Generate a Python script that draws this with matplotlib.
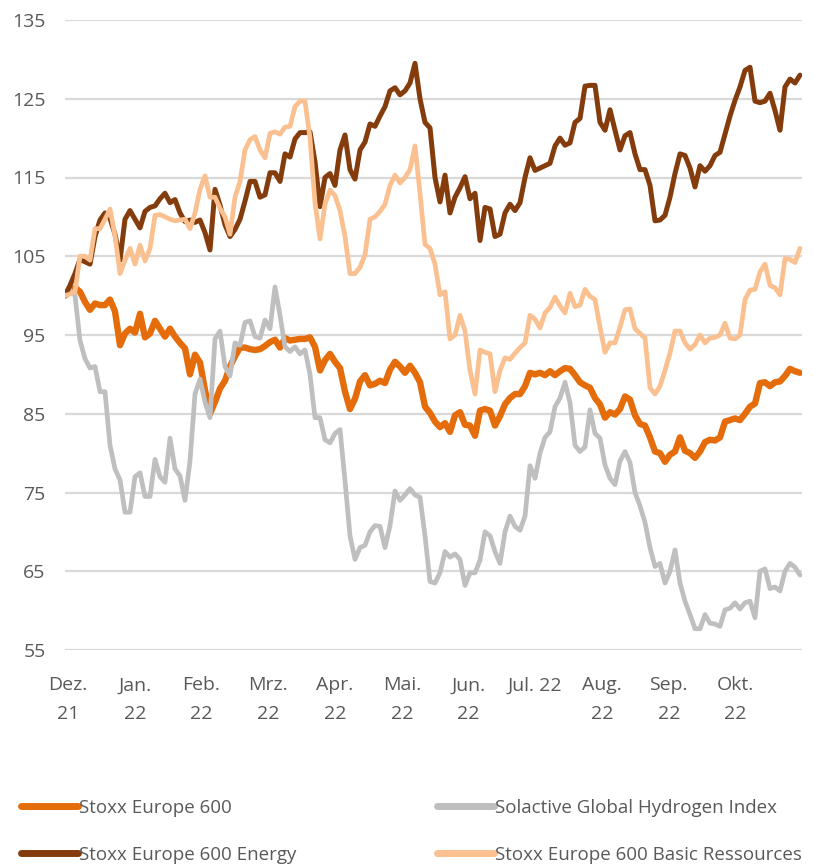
import matplotlib
matplotlib.use("Agg")
import matplotlib.pyplot as plt

# Monatsbeschriftungen der x-Achse
month_labels = ["Dez.\n21", "Jan.\n22", "Feb.\n22", "Mrz.\n22", "Apr.\n22", "Mai.\n22",
                "Jun.\n22", "Jul. 22", "Aug.\n22", "Sep.\n22", "Okt.\n22"]
month_pos = [0.6, 13.95, 27.3, 40.65, 54.0, 67.35, 80.7, 94.05, 107.4, 120.75, 134.1]

y_ticks = [55, 65, 75, 85, 95, 105, 115, 125, 135]

# Indexierte Kurse (Start = 100), ca. jeder zweite Handelstag
stoxx600 = [
    100, 100.5, 101, 100.5, 99.2, 98.2, 99, 98.8, 98.8, 99.5,
    98, 93.7, 95.2, 95.8, 95.3, 97.7, 94.7, 95.2, 96.8, 95.8,
    94.8, 95.8, 94.8, 94, 93.3, 90, 92.5, 91.5, 88, 85,
    86.5, 88.2, 89.2, 91, 92.3, 93.4, 93.4, 93.2, 93.1, 93.2,
    93.6, 94.1, 94.4, 93.4, 94.6, 94.3, 94.4, 94.5, 94.5, 94.7,
    93.5, 90.5, 91.8, 92.6, 91.6, 90.8, 87.8, 85.6, 86.9, 89.1,
    89.9, 88.6, 88.8, 89.2, 88.9, 90.6, 91.6, 91, 90.2, 91.1,
    90.2, 89, 85.9, 85.1, 84, 83.3, 83.8, 82.7, 84.8, 85.2,
    83.6, 83.5, 82.2, 85.4, 85.6, 85.4, 83.5, 84.7, 86.2, 87,
    87.5, 87.5, 88.5, 90.2, 90, 90.2, 89.9, 90.4, 89.9, 90.4,
    90.8, 90.7, 89.9, 89, 88.6, 88.3, 87, 86.2, 84.5, 85.2,
    84.9, 85.6, 87.2, 86.8, 84.8, 83.7, 83.5, 82, 80.2, 80,
    78.9, 79.8, 80.2, 82, 80.3, 80, 79.4, 80.2, 81.4, 81.7,
    81.6, 82, 84, 84.2, 84.4, 84.2, 85, 85.9, 86.3, 88.9,
    89, 88.5, 89, 89.1, 89.8, 90.7, 90.4, 90.2,
]

hydrogen = [
    100, 100.7, 100, 94.3, 92, 90.8, 91, 87.8, 87.8, 81,
    78, 76.6, 72.5, 72.5, 77, 77.5, 74.5, 74.5, 79.2, 77,
    76.3, 81.9, 78, 77.1, 74, 79, 87.5, 89.4, 86.5, 84.5,
    94.5, 95.5, 91, 89.8, 94, 93.7, 96.6, 96.8, 94.8, 94.6,
    96.9, 95.8, 101.1, 97.5, 93.5, 92.9, 93.5, 92.6, 93.1, 90,
    84.5, 84.5, 81.7, 81.3, 82.5, 83, 76.5, 69.5, 66.5, 68,
    68.3, 70, 70.8, 70.7, 68, 70.8, 75.2, 74, 74.7, 75.5,
    74.7, 74.4, 69.5, 63.7, 63.5, 64.8, 67.5, 66.8, 67.2, 66.5,
    63.2, 64.8, 64.8, 66.4, 70, 69.5, 67.5, 66, 70, 72,
    70.7, 70.2, 72, 78.4, 76.8, 80, 82, 82.7, 85.9, 87,
    89, 86.4, 81, 80.2, 80.8, 85.5, 82.5, 81.9, 78.5, 76.8,
    76, 79, 80.2, 78.8, 75, 73.3, 71.2, 68, 65.6, 66,
    63.5, 65, 67.7, 63.5, 61.2, 59.5, 57.7, 57.7, 59.5, 58.4,
    58.3, 58, 60.1, 60.3, 61, 60.2, 61, 61.2, 59.1, 65,
    65.3, 62.8, 63, 62.5, 65, 66, 65.5, 64.5,
]

energy = [
    100, 101.3, 102.8, 104.6, 104.3, 104, 107.5, 109.6, 110.5, 109.8,
    107.8, 104.5, 109.7, 110.8, 109.7, 108.6, 110.7, 111.2, 111.4, 112.3,
    113, 111.8, 112.2, 110.5, 109.4, 109.6, 109.3, 109.6, 108, 105.8,
    113.5, 111.5, 109, 107.5, 108.4, 109.7, 112, 114.5, 114.5, 112.5,
    112.8, 115.6, 115.6, 114.5, 118, 117.6, 119.9, 120.7, 120.7, 120.8,
    117, 111.3, 115, 115.5, 114, 118.5, 120.4, 116, 114.8, 118.5,
    119.5, 121.8, 121.5, 122.8, 124, 126, 126.4, 125.5, 126, 127,
    129.5, 125, 122, 121.3, 115, 111.9, 115.3, 110.5, 112.5, 113.7,
    115.1, 112.3, 113, 107, 111.2, 111, 107.5, 107.8, 110.5, 111.6,
    110.8, 111.8, 115, 117.5, 115.9, 116.2, 116.5, 116.8, 119, 120,
    119.1, 119.4, 122, 122.5, 126.6, 126.7, 126.7, 122, 121, 123.6,
    121, 118.5, 120.3, 120.7, 118, 116, 116, 114, 109.5, 109.6,
    110.2, 112.5, 115.5, 118, 117.8, 116.2, 113.8, 116.5, 115.8, 116.5,
    117.8, 118.2, 120.5, 122.8, 124.8, 126.5, 128.6, 129, 124.7, 124.5,
    124.7, 125.7, 123.5, 121, 126.5, 127.5, 127, 128,
]

basic_res = [
    100, 100.2, 100.5, 105, 105, 104.5, 108.5, 108.5, 109.7, 111,
    107.6, 102.8, 104.5, 106, 104, 106.4, 104.4, 106, 110.2, 110.3,
    110, 109.7, 109.5, 109.6, 109.7, 108.5, 110.5, 113.5, 115.2, 112.5,
    112.5, 111.1, 110, 107.8, 112.5, 114.5, 118.5, 119.8, 120.2, 118.5,
    117.5, 120.6, 120.8, 120.5, 121.4, 121.5, 124, 124.7, 124.7, 120,
    111.8, 107.2, 111.6, 113.4, 112.7, 110.8, 107.5, 102.8, 102.8, 103.6,
    105.2, 109.7, 110, 110.7, 111.6, 114, 115.3, 114.3, 115, 116,
    119, 113, 106.5, 106, 104, 100.1, 100.5, 94.5, 95, 97.5,
    95.5, 90.5, 87.5, 93.1, 92.8, 92.6, 87.8, 90.5, 92.1, 91.9,
    92.7, 93.4, 94, 97.5, 97, 95.9, 97.8, 98.5, 99.8, 98.7,
    97.8, 100.3, 98.6, 98.8, 100.8, 99.9, 99.5, 96, 92.8, 94,
    94, 96, 98.2, 98.3, 95.8, 95.2, 94.6, 88.3, 87.5, 88.5,
    90.5, 92.7, 95.5, 95.5, 94, 93.2, 93.8, 95, 94, 94.6,
    94.7, 95, 96.5, 94.6, 94.5, 95, 99.5, 100.7, 100.8, 103,
    104, 101.3, 101, 100.1, 104.7, 104.6, 104.2, 106,
]

series = [
    ("Stoxx Europe 600", stoxx600, "#E46C0A", 4.6),
    ("Solactive Global Hydrogen Index", hydrogen, "#BFBFBF", 3.4),
    ("Stoxx Europe 600 Energy", energy, "#843C0C", 3.6),
    ("Stoxx Europe 600 Basic Ressources", basic_res, "#FAC090", 3.4),
]

plt.rcParams["font.family"] = ["Open Sans", "DejaVu Sans"]
text_color = "#595959"

fig = plt.figure(figsize=(8.13, 8.65), dpi=100)
ax = fig.add_axes([65 / 813, 1 - 650 / 865, 737 / 813, 630 / 865])

lines = []
for name, values, color, lw in series:
    ln, = ax.plot(range(len(values)), values, color=color, lw=lw, label=name,
                  solid_joinstyle="round", solid_capstyle="round")
    lines.append(ln)

ax.set_xlim(0, 147.4)
ax.set_ylim(55, 135)
ax.set_yticks(y_ticks)
ax.set_xticks(month_pos)
ax.set_xticklabels(month_labels, linespacing=1.75, va="top")
ax.tick_params(axis="both", length=0, labelsize=14, labelcolor=text_color)
ax.tick_params(axis="x", pad=19)
ax.tick_params(axis="y", pad=14)
ax.grid(axis="y", color="#D9D9D9", lw=1.6)
ax.set_axisbelow(True)
for s in ax.spines.values():
    s.set_visible(False)

# Legende zeilenweise: matplotlib füllt spaltenweise, daher umsortieren
order = [0, 2, 1, 3]
leg = fig.legend([lines[i] for i in order], [series[i][0] for i in order],
                 loc="upper left", bbox_to_anchor=(4 / 813, 1 - 782 / 865), ncol=2,
                 frameon=False, fontsize=13.5, handlelength=3.05, handletextpad=0.05,
                 columnspacing=7.5, labelspacing=1.55, labelcolor=text_color)
for line in leg.get_lines():
    line.set_linewidth(5)
    line.set_solid_capstyle("round")

fig.savefig("out.png", dpi=100)
